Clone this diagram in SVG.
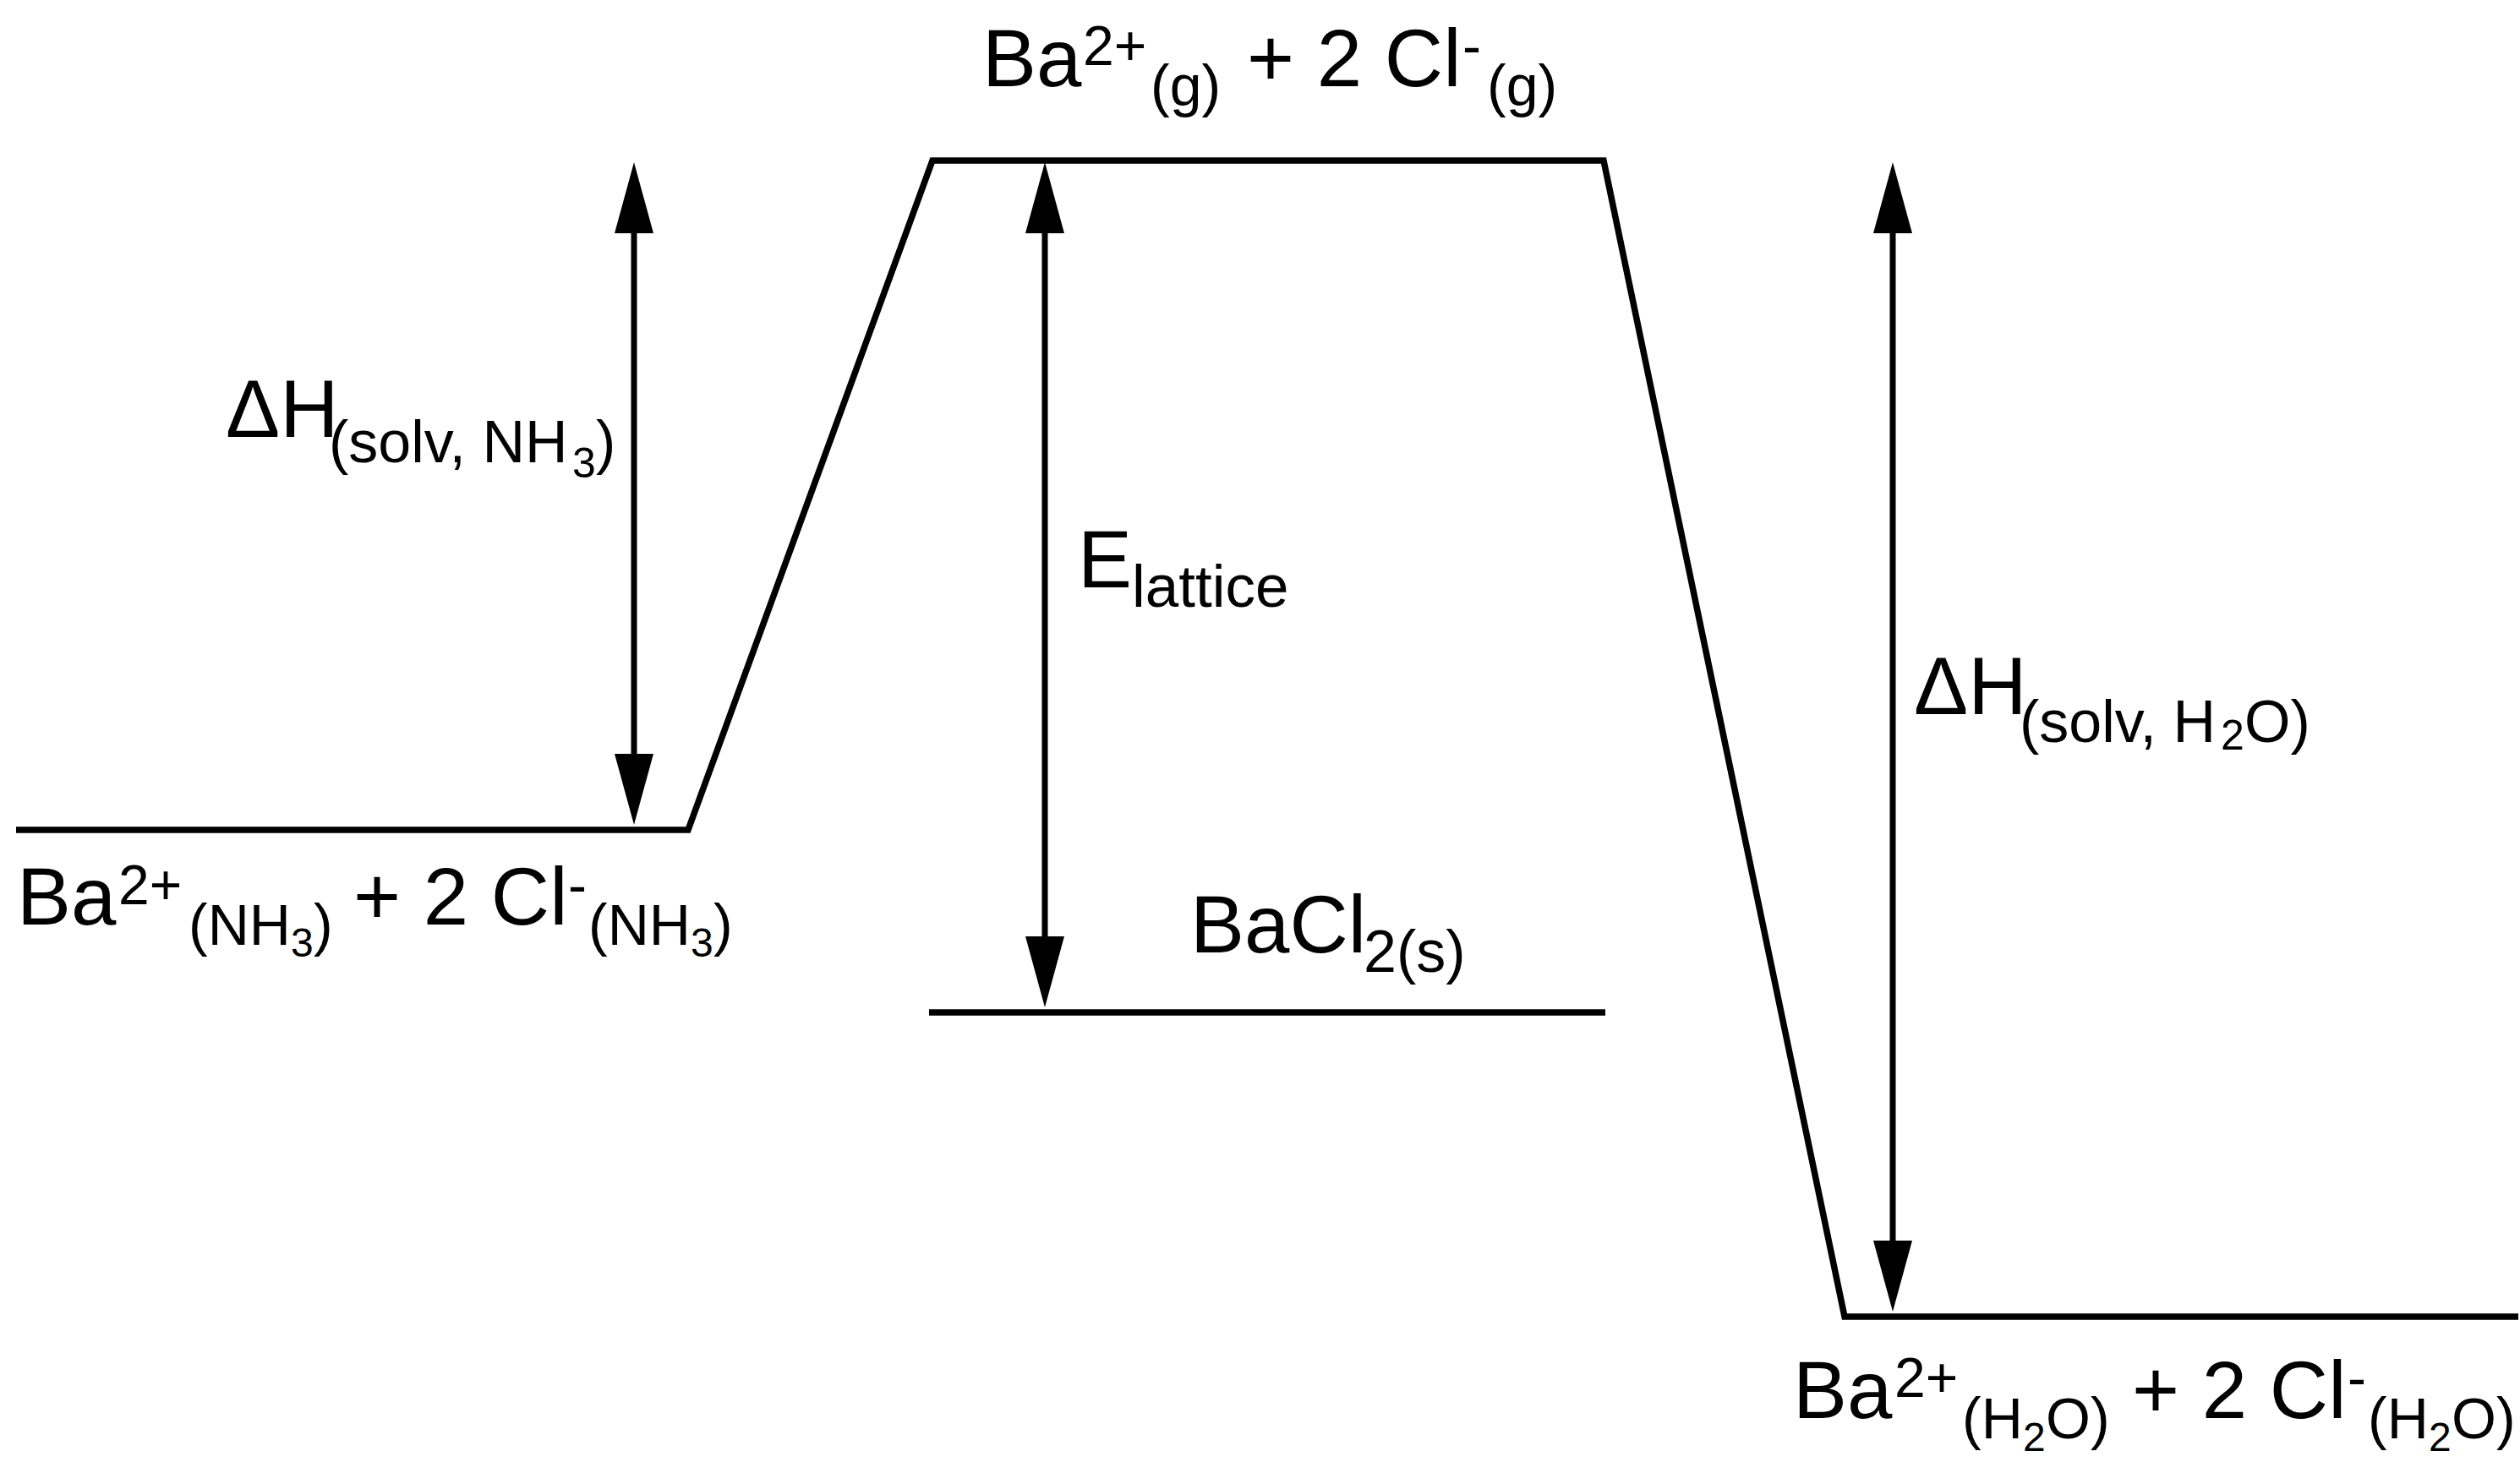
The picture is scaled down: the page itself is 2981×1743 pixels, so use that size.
<svg xmlns="http://www.w3.org/2000/svg" width="2981" height="1743" viewBox="0 0 2981 1743">
<style>
text{font-family:"Liberation Sans",Arial,Helvetica,sans-serif;fill:#000}
.m{font-size:96px}
.sp{font-size:66px}
.sb{font-size:68px}
.ss{font-size:48px}
.sb2{font-size:70px}
.ss2{font-size:50px}
.lvl{fill:none;stroke:#000;stroke-width:7.5;stroke-linejoin:miter;stroke-miterlimit:10}
.arr{stroke:#000;stroke-width:7;fill:none;marker-start:url(#ah);marker-end:url(#ah)}
</style>
<defs>
<marker id="ah" markerUnits="userSpaceOnUse" orient="auto-start-reverse" refX="0" refY="0" markerWidth="1" markerHeight="1" overflow="visible">
<path d="M-14,-23 L70,0 L-14,23 Z" fill="#000"/>
</marker>
</defs>
<rect width="2981" height="1743" fill="#fff"/>
<g id="profile">
<polyline class="lvl" points="19,982 814,982 1103,190 1897,190 2182,1558 2979,1558"/>
</g>
<g id="gas-ions">
<text class="m"><tspan x="1162" y="102">Ba</tspan><tspan class="sp" x="1281" y="77">2+</tspan><tspan class="sb" x="1361" y="125">(g)</tspan><tspan x="1475" y="102">+ 2 Cl</tspan><tspan class="sp" x="1730" y="77">-</tspan><tspan class="sb" x="1759" y="125">(g)</tspan></text>
</g>
<g id="nh3-ions">
<text class="m"><tspan x="20" y="1094">Ba</tspan><tspan class="sp" x="140" y="1070">2+</tspan><tspan class="sb" x="223" y="1118">(NH</tspan><tspan class="ss" x="344" y="1132">3</tspan><tspan class="sb" x="371" y="1118">)</tspan><tspan x="418" y="1094">+ 2 Cl</tspan><tspan class="sp" x="672" y="1070">-</tspan><tspan class="sb" x="696" y="1118">(NH</tspan><tspan class="ss" x="817" y="1132">3</tspan><tspan class="sb" x="844" y="1118">)</tspan></text>
</g>
<g id="bacl2-solid">
<line class="lvl" x1="1099" y1="1198" x2="1899" y2="1198"/>
<text class="m"><tspan x="1408" y="1127">BaCl</tspan><tspan class="sb2" x="1613" y="1150">2(s)</tspan></text>
</g>
<g id="h2o-ions">
<text class="m"><tspan x="2121" y="1678">Ba</tspan><tspan class="sp" x="2241" y="1653">2+</tspan><tspan class="sb" x="2321" y="1702">(H</tspan><tspan class="ss" x="2393" y="1717">2</tspan><tspan class="sb" x="2420" y="1702">O)</tspan><tspan x="2522" y="1678">+ 2 Cl</tspan><tspan class="sp" x="2777" y="1653">-</tspan><tspan class="sb" x="2801" y="1702">(H</tspan><tspan class="ss" x="2873" y="1717">2</tspan><tspan class="sb" x="2900" y="1702">O)</tspan></text>
</g>
<g id="connectors">
<line class="arr" x1="750" y1="262" x2="750" y2="906"/>
<line class="arr" x1="1236" y1="262" x2="1236" y2="1122"/>
<line class="arr" x1="2239" y1="262" x2="2239" y2="1482"/>
<text class="m"><tspan x="267" y="517">ΔH</tspan><tspan class="sb2" x="389" y="547">(solv, NH</tspan><tspan class="ss2" x="677" y="565">3</tspan><tspan class="sb2" x="705" y="547">)</tspan></text>
<text class="m"><tspan x="1275" y="695">E</tspan><tspan class="sb2" x="1339" y="718" style="font-size:71px">lattice</tspan></text>
<text class="m"><tspan x="2264" y="845">ΔH</tspan><tspan class="sb2" x="2389" y="878">(solv, H</tspan><tspan class="ss2" x="2627" y="887">2</tspan><tspan class="sb2" x="2655" y="878">O)</tspan></text>
</g>
</svg>
